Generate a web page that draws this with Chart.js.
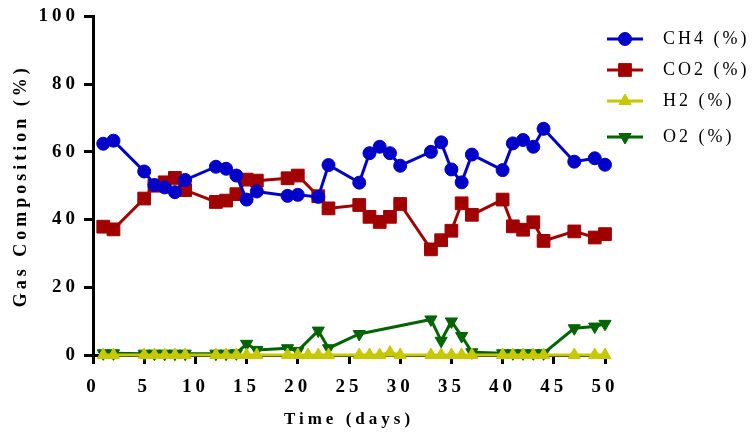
<!DOCTYPE html>
<html>
<head>
<meta charset="utf-8">
<script src="https://cdn.jsdelivr.net/npm/chart.js@4.4.1/dist/chart.umd.min.js"></script>
<style>
body{margin:0;background:#fff}
</style>
</head>
<body>
<canvas id="canvas" width="756" height="432"></canvas>
<script>
const days = [1,2,5,6,7,8,9,12,13,14,15,16,19,20,21,22,23,26,27,28,29,30,33,34,35,36,37,40,41,42,43,44,47,49,50];
const ch4 = [62.4,63.3,54.2,50.2,49.5,48.1,51.7,55.6,55.0,53.0,45.9,48.3,47.0,47.3,null,46.7,56.1,50.9,59.6,61.5,59.6,55.9,60.0,62.8,54.8,51.0,59.2,54.6,62.5,63.5,61.5,66.8,57.1,58.1,56.2];
const co2 = [37.9,37.1,46.2,50.0,51.0,52.3,48.7,45.2,45.6,47.5,51.8,51.5,52.2,53.0,null,46.9,43.3,44.3,40.8,39.3,40.8,44.6,31.2,33.9,36.7,44.8,41.4,45.9,38.0,37.0,39.2,33.7,36.5,34.7,35.7];
const h2  = [0,0,0,0,0,0,0,0,0,0,0,0,0,0,0,0,0,0,0,0,0.7,0,0,0,0,0,0,0,0,0,0,0,0,0,0];
const o2  = [0.5,0.5,0.4,0.4,0.4,0.4,0.4,0.4,0.4,0.5,3.3,1.5,2.0,1.2,null,7.2,2.0,6.2,null,null,null,null,10.5,4.2,9.9,5.6,0.8,0.5,0.5,0.5,0.5,0.5,7.9,8.4,9.2];
const labels = ['CH4 (%)','CO2 (%)','H2 (%)','O2 (%)'];
const xTicks = {min:0, max:50, step:5};
const yTicks = {min:0, max:100, step:20};

const FONT = '"Liberation Serif", "Times New Roman", serif';
const toPoints = vals => days.map((d,i)=>({x:d, y:vals[i]})).filter(p => p.y !== null);

const legendY = [39,70,101,137];

const spacing = {
    id:'spacing',
    beforeLayout(chart){ chart.ctx.letterSpacing = '4px'; },
    beforeDraw(chart){ chart.ctx.letterSpacing = '4px'; },
    afterDraw(chart){
        // legend drawn by hand: line + marker + label
        const ctx = chart.ctx;
        ctx.save();
        ctx.letterSpacing = '3px';
        ctx.font = '18px ' + FONT;
        ctx.textBaseline = 'middle';
        ctx.textAlign = 'left';
        chart.data.datasets.forEach((ds,i)=>{
            const y = legendY[i];
            ctx.strokeStyle = ds.borderColor;
            ctx.lineWidth = 3;
            ctx.beginPath(); ctx.moveTo(607,y); ctx.lineTo(643,y); ctx.stroke();
            ctx.fillStyle = ds.borderColor;
            ctx.lineWidth = 1;
            Chart.helpers.drawPoint(ctx, {pointStyle:ds.pointStyle, radius:ds.pointRadius, rotation:ds.pointRotation||0, borderWidth:1}, 625, y);
            ctx.fillStyle = '#000';
            ctx.fillText(ds.label, 663, y);
        });
        ctx.restore();
    }
};

const mk = (label, vals, color, style, r, rot) => ({
    label: label,
    data: toPoints(vals),
    borderColor: color,
    backgroundColor: color,
    borderWidth: 3,
    pointStyle: style,
    pointRadius: r,
    pointRotation: rot,
    pointBorderWidth: 1,
    pointBackgroundColor: color,
    pointBorderColor: color,
    tension: 0,
    clip: false
});

const ctx = document.getElementById('canvas').getContext('2d');
window.myChart = new Chart(ctx, {
    type: 'line',
    data: {
        datasets: [
            mk(labels[0], ch4, '#0000c8', 'circle', 6.5, 0),
            mk(labels[1], co2, '#a00000', 'rect', 9, 0),
            mk(labels[2], h2, '#c8c800', 'triangle', 7, 0),
            mk(labels[3], o2, '#006400', 'triangle', 7, 180)
        ]
    },
    options: {
        responsive: false,
        animation: false,
        devicePixelRatio: 1,
        layout: { padding: {top:16, right:151, left:0, bottom:0} },
        plugins: { legend: {display:false}, tooltip: {enabled:false} },
        scales: {
            x: {
                type: 'linear',
                min: xTicks.min, max: xTicks.max,
                afterFit: s => { s.height = 77; },
                ticks: { stepSize: xTicks.step, padding: 12, color:'#000', font:{family:FONT, size:19, weight:'bold'} },
                grid: { drawOnChartArea:false, color:'#000', lineWidth:3, tickLength:9 },
                border: { color:'#000', width:3 },
                title: { display:true, text:'Time (days)', color:'#000', font:{family:FONT, size:17, weight:'bold'}, padding:{top:0, bottom:2} }
            },
            y: {
                min: yTicks.min, max: yTicks.max,
                afterFit: s => { s.width = 93; },
                ticks: { stepSize: yTicks.step, padding: 5, color:'#000', font:{family:FONT, size:19, weight:'bold'} },
                grid: { drawOnChartArea:false, color:'#000', lineWidth:3, tickLength:9 },
                border: { color:'#000', width:3 },
                title: { display:true, text:'Gas Composition (%)', color:'#000', font:{family:FONT, size:18, weight:'bold'}, padding:{top:11, bottom:0} }
            }
        }
    },
    plugins: [spacing]
});
</script>
</body>
</html>
